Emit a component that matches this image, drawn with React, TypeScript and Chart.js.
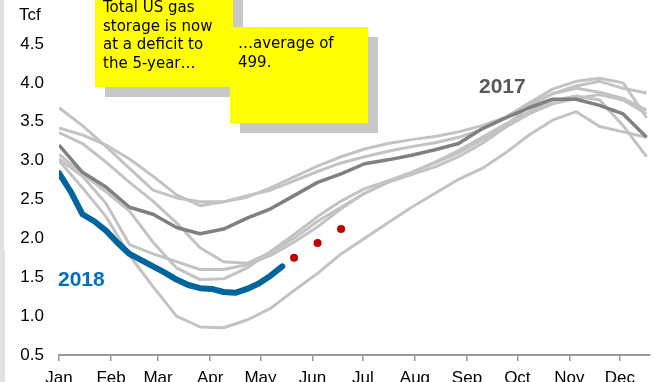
import React, { useEffect, useRef } from "react";
import { Chart, registerables } from "chart.js";

Chart.register(...registerables);

// x positions: day of year (biweekly samples)
const days = [0, 14, 28, 42, 56, 70, 84, 98, 112, 126, 140, 154, 168, 182, 196, 210, 224, 238, 252, 266, 280, 294, 308, 322, 336, 350];

// storage, Tcf
const y2011 = [3.02, 2.8, 2.45, 1.92, 1.8, 1.7, 1.6, 1.6, 1.66, 1.78, 1.95, 2.15, 2.38, 2.58, 2.72, 2.82, 2.92, 3.05, 3.22, 3.43, 3.6, 3.73, 3.8, 3.85, 3.78, 3.6];
const y2012 = [3.42, 3.33, 3.2, 3.02, 2.8, 2.56, 2.42, 2.47, 2.55, 2.62, 2.74, 2.86, 2.97, 3.05, 3.12, 3.18, 3.23, 3.3, 3.4, 3.55, 3.72, 3.86, 3.93, 3.88, 3.8, 3.65];
const y2013 = [3.36, 3.22, 2.98, 2.72, 2.48, 2.2, 1.88, 1.7, 1.68, 1.82, 2.0, 2.22, 2.4, 2.58, 2.73, 2.85, 2.98, 3.13, 3.3, 3.47, 3.63, 3.77, 3.83, 3.78, 3.45, 3.05];
const y2014 = [3.0, 2.65, 2.28, 1.78, 1.38, 1.0, 0.86, 0.85, 0.95, 1.1, 1.33, 1.55, 1.8, 2.0, 2.2, 2.4, 2.58, 2.76, 2.9, 3.1, 3.33, 3.52, 3.63, 3.44, 3.37, 3.3];
const y2015 = [3.08, 2.83, 2.6, 2.35, 1.95, 1.62, 1.47, 1.48, 1.62, 1.83, 2.05, 2.28, 2.48, 2.64, 2.74, 2.85, 2.97, 3.1, 3.27, 3.45, 3.7, 3.86, 3.96, 4.02, 3.93, 3.87];
const y2016 = [3.68, 3.45, 3.18, 2.9, 2.62, 2.52, 2.47, 2.47, 2.53, 2.65, 2.79, 2.93, 3.05, 3.15, 3.22, 3.27, 3.31, 3.37, 3.45, 3.56, 3.74, 3.92, 4.02, 4.06, 4.0, 3.55];
const y2017 = [3.2, 2.85, 2.66, 2.4, 2.31, 2.14, 2.06, 2.12, 2.26, 2.38, 2.55, 2.72, 2.83, 2.96, 3.01, 3.07, 3.14, 3.22, 3.41, 3.55, 3.68, 3.79, 3.79, 3.71, 3.6, 3.3];

// 2018 weekly
const days2018 = [0, 7, 14, 21, 28, 35, 42, 49, 56, 63, 70, 77, 84, 91, 98, 105, 112, 119, 126, 133];
const y2018 = [2.84, 2.6, 2.31, 2.22, 2.1, 1.94, 1.8, 1.72, 1.64, 1.56, 1.47, 1.4, 1.36, 1.35, 1.31, 1.3, 1.35, 1.42, 1.52, 1.64];

// projected points
const forecastDays = [140, 154, 168];
const forecastValues = [1.75, 1.94, 2.12];

const monthStarts = [0, 31, 59, 90, 120, 151, 181, 212, 243, 273, 304, 334];
const monthLabels = ["Jan", "Feb", "Mar", "Apr", "May", "Jun", "Jul", "Aug", "Sep", "Oct", "Nov", "Dec"];

const unitLabel = "Tcf";
const noteA = ["Total US gas", "storage is now", "at a deficit to", "the 5-year…"];
const noteB = ["…average of", "499."];
const label2017 = "2017";
const label2018 = "2018";

const grayYears = [y2011, y2012, y2013, y2014, y2015, y2016];

const pts = (xs: number[], ys: number[]) => ys.map((v, i) => ({ x: xs[i], y: v }));

const TICK_FONT = { family: '"Liberation Sans", Arial, sans-serif', size: 17 };
const NOTE_FONT = '15px "Comic Sans MS", "DejaVu Sans", sans-serif';

const annotate = {
  id: "annotate",
  afterDraw(chart: any) {
    const ctx = chart.ctx as CanvasRenderingContext2D;
    ctx.save();
    // left frame strip
    ctx.fillStyle = "#e2e2e2";
    ctx.fillRect(0, 0, 4, 250);
    ctx.fillRect(0, 250, 5, 132);

    // unit
    ctx.fillStyle = "#000";
    ctx.font = '17px "Liberation Sans", Arial, sans-serif';
    ctx.textBaseline = "alphabetic";
    ctx.textAlign = "left";
    ctx.fillText(unitLabel, 19, 20);

    // note boxes
    ctx.fillStyle = "#c8c8c8";
    ctx.fillRect(105, 0, 138, 97);
    ctx.fillStyle = "#ffff00";
    ctx.fillRect(95, -10, 138, 97);
    ctx.fillStyle = "#c8c8c8";
    ctx.fillRect(240, 37, 138, 96);
    ctx.fillStyle = "#ffff00";
    ctx.fillRect(230, 27, 138, 96);

    ctx.fillStyle = "#000";
    ctx.font = NOTE_FONT;
    noteA.forEach((t, i) => ctx.fillText(t, 103, 12 + i * 18.7));
    noteB.forEach((t, i) => ctx.fillText(t, 238, 48 + i * 19));

    // series labels
    ctx.font = 'bold 21px "Liberation Sans", Arial, sans-serif';
    ctx.fillStyle = "#595959";
    ctx.fillText(label2017, 479, 93);
    ctx.fillStyle = "#0070c0";
    ctx.fillText(label2018, 58, 286);
    ctx.restore();
  },
};

export default function App() {
  const ref = useRef<HTMLCanvasElement | null>(null);

  useEffect(() => {
    if (!ref.current) return;
    const grayDatasets = grayYears.map((ys) => ({
      data: pts(days, ys),
      borderColor: "#c3c3c3",
      borderWidth: 3,
      pointRadius: 0,
      tension: 0,
      borderJoinStyle: "round" as const,
      fill: false,
    }));
    const chart = new Chart(ref.current, {
      type: "line",
      data: {
        datasets: [
          {
            data: pts(forecastDays, forecastValues),
            showLine: false,
            pointRadius: 4,
            pointBackgroundColor: "#c00000",
            pointBorderWidth: 0,
            borderColor: "#c00000",
          },
          {
            data: pts(days2018, y2018),
            borderColor: "#00659c",
            borderWidth: 6,
            pointRadius: 0,
            tension: 0,
            borderCapStyle: "round",
            borderJoinStyle: "round",
          },
          {
            data: pts(days, y2017),
            borderColor: "#808080",
            borderWidth: 3.5,
            pointRadius: 0,
            tension: 0,
            borderJoinStyle: "round",
          },
          ...grayDatasets,
        ] as any,
      },
      options: {
        animation: false,
        responsive: false,
        devicePixelRatio: 1,
        layout: { padding: { top: 44, left: 0, right: 0, bottom: 0 } },
        plugins: { legend: { display: false }, tooltip: { enabled: false } },
        events: [],
        scales: {
          x: {
            type: "linear",
            min: 0,
            max: 352,
            afterBuildTicks: (s: any) => {
              s.ticks = monthStarts.map((v) => ({ value: v }));
            },
            afterFit: (s: any) => {
              s.height = 27;
            },
            ticks: {
              autoSkip: false,
              maxRotation: 0,
              padding: 7,
              color: "#000",
              font: TICK_FONT,
              callback: (_v: any, i: number) => monthLabels[i],
            },
            grid: { display: true, drawOnChartArea: false, drawTicks: true, tickLength: 6, color: "#999", lineWidth: 1.5 },
            border: { display: true, color: "#999", width: 2 },
          },
          y: {
            type: "linear",
            min: 0.5,
            max: 4.5,
            afterFit: (s: any) => {
              s.width = 59;
            },
            ticks: {
              stepSize: 0.5,
              padding: 15,
              color: "#000",
              font: TICK_FONT,
              callback: (v: any) => Number(v).toFixed(1),
            },
            grid: { display: false, drawTicks: false },
            border: { display: false },
          },
        },
      },
      plugins: [annotate],
    });
    return () => chart.destroy();
  }, []);

  return (
    <div style={{ position: "fixed", left: 0, top: 0, width: 654, height: 382, background: "#fff", overflow: "hidden" }}>
      <canvas ref={ref} width={654} height={382} style={{ display: "block" }} />
    </div>
  );
}
